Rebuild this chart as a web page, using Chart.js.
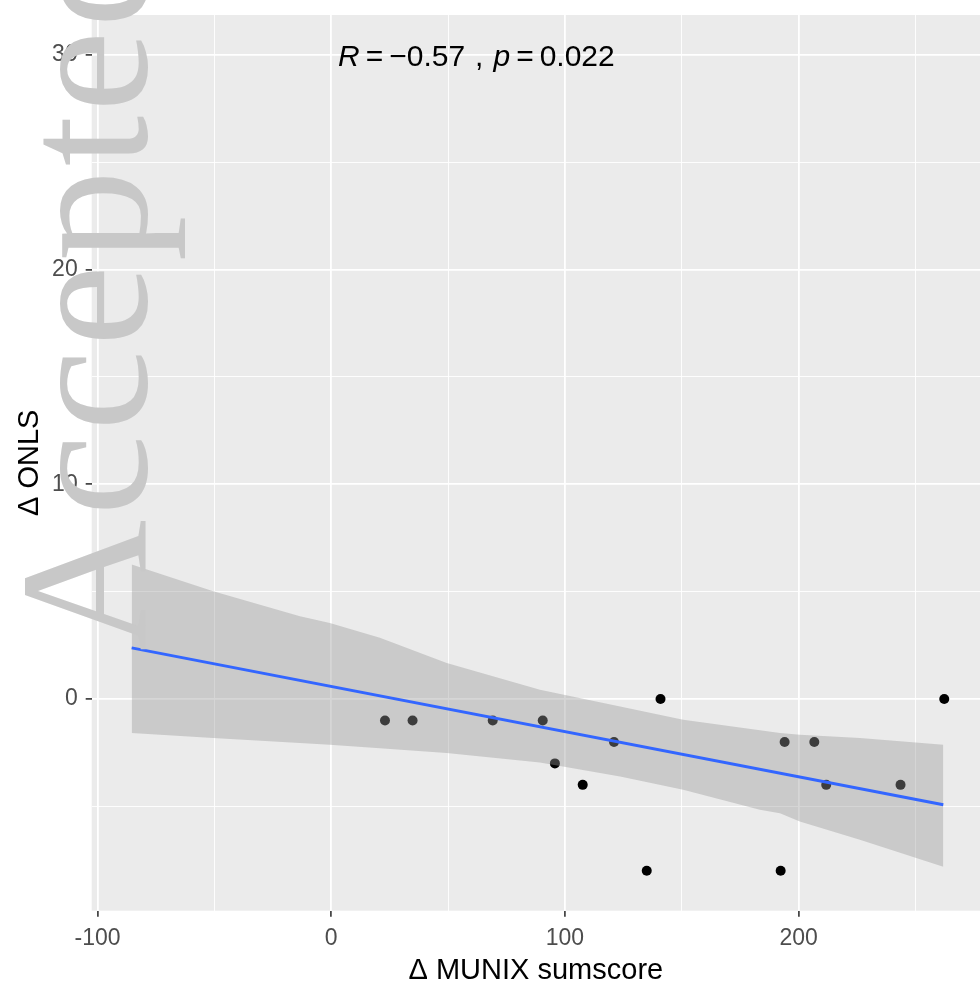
<!DOCTYPE html>
<html>
<head>
<meta charset="utf-8">
<script src="https://cdn.jsdelivr.net/npm/chart.js@4.4.1/dist/chart.umd.min.js"></script>
<style>
  html, body { margin: 0; padding: 0; background: #fff; }
  #wrap { position: relative; width: 980px; height: 989px; }
</style>
</head>
<body>
<div id="wrap"><canvas id="corrChart"></canvas></div>
<script>
// points (first one sits under the watermark)
const munix = [-85.4, 23.0, 34.8, 69.1, 90.5, 95.7, 107.6, 121.0, 135.0, 140.9, 192.3, 194.0, 206.7, 211.8, 243.6, 262.3];
const onls  = [7, -1, -1, -1, -1, -3, -4, -2, -8, 0, -8, -2, -2, -4, -4, 0];

// regression line and its confidence band, as drawn
const fitX = [-85.4, 261.9];
const fitY = [2.38, -4.93];
const bandX     = [-85.4, -50.5, -13.4, -0.6, 20.8, 49.4, 89.3, 123.6, 150.6, 183.4, 192.0, 200.5, 226.2, 261.9];
const bandUpper = [6.26, 5.02, 3.85, 3.54, 2.85, 1.68, 0.43, -0.35, -0.97, -1.46, -1.59, -1.67, -1.82, -2.13];
const bandLower = [-1.59, -1.82, -2.05, -2.13, -2.29, -2.52, -2.96, -3.61, -4.23, -5.16, -5.32, -5.71, -6.56, -7.81];

// axes
const xMajor = [-100, 0, 100, 200];
const xMinor = [-50, 50, 150, 250];
const yMajor = [0, 10, 20, 30];
const yMinor = [-5, 5, 15, 25];
const xRange = [-102.5, 277.6];
const yRange = [-9.86, 31.85];

// stat label
const statLabel = { x: 2.9, y: 30, r: "−0.57", p: "0.022" };

const SANS = '"Liberation Sans", Arial, sans-serif';

const toPts = (xs, ys) => xs.map((x, i) => ({ x: x, y: ys[i] }));

const panelBg = {
    id: "panelBg",
    beforeDraw(chart) {
        const { ctx, chartArea: a } = chart;
        ctx.save();
        ctx.fillStyle = "#ebebeb";
        ctx.fillRect(a.left, a.top, a.right - a.left, a.bottom - a.top);
        ctx.restore();
    }
};

const overlay = {
    id: "overlay",
    afterDraw(chart) {
        const ctx = chart.ctx;
        const xs = chart.scales.x, ys = chart.scales.y;

        // R / p label, R and p in italics
        const runs = [
            ["R", true, 6], ["=", false, 6], [statLabel.r, false, 10], [",", false, 10],
            ["p", true, 6], ["=", false, 6], [statLabel.p, false, 0]
        ];
        let x = xs.getPixelForValue(statLabel.x);
        const base = ys.getPixelForValue(statLabel.y) + 11.5;
        ctx.save();
        ctx.fillStyle = "#000";
        ctx.textBaseline = "alphabetic";
        runs.forEach(([t, it, gap]) => {
            ctx.font = (it ? "italic " : "") + "30px " + SANS;
            ctx.fillText(t, x, base);
            x += ctx.measureText(t).width + gap;
        });
        ctx.restore();

        // "Accepted" watermark on top of everything
        ctx.save();
        ctx.translate(146, 651);
        ctx.rotate(-Math.PI / 2);
        ctx.font = '182px "Liberation Serif", "Times New Roman", serif';
        ctx.letterSpacing = "4px";
        ctx.fillStyle = "#c8c8c8";
        ctx.textBaseline = "alphabetic";
        ctx.fillText("Accepted", 0, 0);
        ctx.restore();
    }
};

const major = (list) => (c) => c.tick && list.includes(c.tick.value);

new Chart(document.getElementById("corrChart"), {
    type: "scatter",
    data: {
        datasets: [
            {
                label: "patients",
                data: toPts(munix, onls),
                pointRadius: 5,
                pointBackgroundColor: "#000",
                pointBorderWidth: 0,
                order: 3
            },
            {
                type: "line",
                label: "ci upper",
                data: toPts(bandX, bandUpper),
                showLine: true,
                borderColor: "rgba(0,0,0,0)",
                borderWidth: 0,
                pointRadius: 0,
                fill: "+1",
                backgroundColor: "rgba(153,153,153,0.4)",
                order: 2
            },
            {
                type: "line",
                label: "ci lower",
                data: toPts(bandX, bandLower),
                showLine: true,
                borderColor: "rgba(0,0,0,0)",
                borderWidth: 0,
                pointRadius: 0,
                fill: false,
                order: 2
            },
            {
                type: "line",
                label: "fit",
                data: toPts(fitX, fitY),
                showLine: true,
                borderColor: "#3366FF",
                borderWidth: 3,
                pointRadius: 0,
                fill: false,
                order: 1
            }
        ]
    },
    options: {
        responsive: true,
        maintainAspectRatio: false,
        animation: false,
        events: [],
        layout: { autoPadding: false, padding: { top: 15, right: 0, bottom: 0, left: 0 } },
        plugins: {
            legend: { display: false },
            tooltip: { enabled: false }
        },
        scales: {
            x: {
                type: "linear",
                min: xRange[0],
                max: xRange[1],
                afterBuildTicks: (s) => { s.ticks = xMajor.concat(xMinor).sort((a, b) => a - b).map(v => ({ value: v })); },
                afterFit: (s) => { s.height = 78.3; s.paddingLeft = 0; s.paddingRight = 0; },
                border: { display: false },
                grid: {
                    color: "#fff",
                    lineWidth: (c) => major(xMajor)(c) ? 1.8 : 0.9,
                    drawTicks: true,
                    tickLength: 6,
                    tickWidth: 1.6,
                    tickColor: (c) => major(xMajor)(c) ? "#333" : "rgba(0,0,0,0)"
                },
                ticks: {
                    autoSkip: false,
                    maxRotation: 0,
                    padding: 8,
                    color: "#4d4d4d",
                    font: { family: SANS, size: 23 },
                    callback: (v) => xMajor.includes(v) ? String(v) : ""
                },
                title: {
                    display: true,
                    text: "Δ MUNIX sumscore",
                    color: "#000",
                    font: { family: SANS, size: 29 },
                    padding: { top: 0, bottom: 1 }
                }
            },
            y: {
                type: "linear",
                min: yRange[0],
                max: yRange[1],
                afterBuildTicks: (s) => { s.ticks = yMajor.concat(yMinor).sort((a, b) => a - b).map(v => ({ value: v })); },
                afterFit: (s) => { s.width = 91.7; s.paddingTop = 0; s.paddingBottom = 0; },
                border: { display: false },
                grid: {
                    color: "#fff",
                    lineWidth: (c) => major(yMajor)(c) ? 1.8 : 0.9,
                    drawTicks: true,
                    tickLength: 6,
                    tickWidth: 1.6,
                    tickColor: (c) => major(yMajor)(c) ? "#333" : "rgba(0,0,0,0)"
                },
                ticks: {
                    autoSkip: false,
                    padding: 8,
                    color: "#4d4d4d",
                    font: { family: SANS, size: 23 },
                    callback: (v) => yMajor.includes(v) ? String(v) : ""
                },
                title: {
                    display: true,
                    text: "Δ ONLS",
                    color: "#000",
                    font: { family: SANS, size: 29 },
                    padding: { top: 13, bottom: 0 }
                }
            }
        }
    },
    plugins: [panelBg, overlay]
});
</script>
</body>
</html>
